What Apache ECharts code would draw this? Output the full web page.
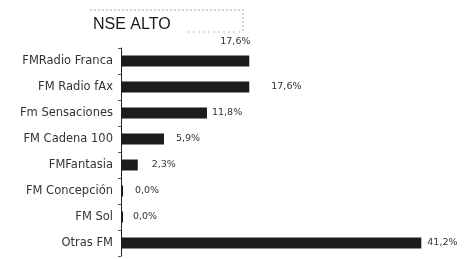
<!DOCTYPE html>
<html><head><meta charset="utf-8">
<script src="https://cdn.jsdelivr.net/npm/echarts@6/dist/echarts.min.js"></script>
<style>html,body{margin:0;padding:0;background:#fff}#c{width:469px;height:259px}</style>
</head><body><div id="c"></div>
<script>
const categories = ["FMRadio Franca","FM Radio fAx","Fm Sensaciones","FM Cadena 100","FMFantasia","FM Concepción","FM Sol","Otras FM"];
const values = [17.6, 17.6, 11.8, 5.9, 2.3, 0.0, 0.0, 41.2];
const valueLabels = ["17,6%","17,6%","11,8%","5,9%","2,3%","0,0%","0,0%","41,2%"];
const titleText = "NSE ALTO";

const labelOffsets = [[-29,-19],[22,0],[5,0],[12,0],[14,0],[12,0],[10,0],[6,0]];
const chart = echarts.init(document.getElementById('c'));
chart.setOption({
  animation:false,
  title:{text:titleText,left:88,top:12,textStyle:{fontFamily:'Liberation Sans',fontSize:16,fontWeight:'normal',color:'#1a1a1a'}},
  graphic:[
    {type:'polyline',shape:{points:[[90,10],[243,10],[243,33]]},style:{fill:'none',stroke:'#aaa',lineWidth:1,lineDash:[2,2]}},
    {type:'line',shape:{x1:188,y1:32,x2:243,y2:32},style:{stroke:'#bbb',lineWidth:1,lineDash:[2,3]}}
  ],
  grid:{left:121,right:20,top:48,bottom:3,containLabel:false},
  xAxis:{type:'value',min:0,max:45,show:false},
  yAxis:{type:'category',data:categories,inverse:true,offset:3,
    axisLine:{lineStyle:{color:'#222',width:1}},
    axisTick:{show:true,length:3,lineStyle:{color:'#555'}},
    axisLabel:{fontFamily:'DejaVu Sans',fontSize:11.5,color:'#333',margin:5}},
  series:[{type:'bar',data:values.map((v,i)=>({value:v,label:{offset:labelOffsets[i]}})),
    barWidth:11,barMinHeight:2,itemStyle:{color:'#1c1c1c'},
    label:{show:true,position:'right',distance:0,fontFamily:'DejaVu Sans',fontSize:9.5,color:'#333',
      formatter:p=>valueLabels[p.dataIndex]}}]
});
</script></body></html>
